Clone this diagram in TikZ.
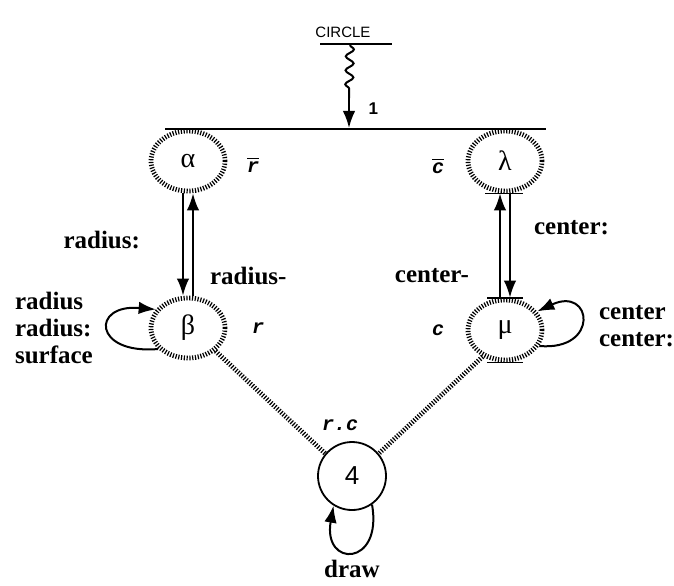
\documentclass[tikz,border=0pt]{standalone}
\usepackage{fontspec}
\setmainfont{Liberation Serif}
\setsansfont{Liberation Sans}
\setmonofont{Liberation Mono}
\usepackage{tikz}
\usetikzlibrary{arrows.meta, positioning, calc, shapes.geometric, decorations.pathmorphing}
\newcommand{\attr}[1]{{\ttfamily\itshape\bfseries #1}}

\begin{document}
\begin{tikzpicture}[
    x=0.5pt, y=-0.5pt,
    >=Latex,
    hatched/.style={line width=2.4pt, dash pattern=on 0.6pt off 0.8pt},
    state/.style={
        ellipse, draw, hatched,
        minimum width=37pt, minimum height=30pt, inner sep=0pt,
        font=\fontsize{14}{14}\selectfont
    },
    transition/.style={
        line width=1pt,
        -{Latex[length=3mm,width=2.2mm]}
    },
    lbl/.style={font=\fontsize{12.5}{13.5}\selectfont\bfseries, align=left},
    attrib/.style={font=\fontsize{10}{10}\selectfont}
]
\useasboundingbox (0,0) rectangle (674,585);

% Nodes
\node[font=\sffamily\fontsize{7.5}{7.5}\selectfont] (circle) at (343,32) {CIRCLE};
\coordinate (barL) at (320,44);
\coordinate (barR) at (392,44);
\coordinate (src) at (350,45);
\coordinate (bend) at (349,98);
\coordinate (hit) at (349,128);
\coordinate (lineL) at (165,129);
\coordinate (lineR) at (546,129);

\node[state] (alpha) at (188,161) {α};
\node[state] (lambda) at (505,161) {λ};
\node[state] (beta) at (188,328) {β};
\node[state] (mu) at (505,330) {μ};
\node[circle, draw, line width=0.9pt, minimum size=34pt, inner sep=0pt,
      font=\sffamily\fontsize{13}{13}\selectfont] (four) at (352,476) {4};

% Attribute labels
\node[attrib] (rbar) at (253,165) {$\overline{\mbox{\attr{r}}}$};
\node[attrib] (cbar) at (438,166) {$\overline{\mbox{\attr{c}}}$};
\node[attrib] (r) at (258,328) {\attr{r}};
\node[attrib] (c) at (438,330) {\attr{c}};
\node[attrib] (rc) at (340,425) {\attr{r.c}};

% Top of the diagram
\draw[line width=1pt] (barL) -- (barR);
\draw[line width=1pt] (lineL) -- (lineR);
\draw[line width=1pt, decorate,
      decoration={snake, amplitude=2pt, segment length=7pt, post length=2pt}]
    (src) -- (bend);
\draw[transition] (bend) -- node[right, font=\sffamily\bfseries\fontsize{8.5}{8.5}\selectfont, pos=0.35, xshift=6pt] {1} (hit);

% alpha <-> beta
\draw[transition] ([xshift=-2.5pt]alpha.south) -- ([xshift=-2.5pt]beta.north);
\draw[transition] ([xshift=2.5pt]beta.north) -- ([xshift=2.5pt]alpha.south);
\node[lbl, anchor=east] (radcol) at (147,240) {radius:};
\node[lbl, anchor=west] (radmin) at (203,276) {radius-};

% lambda <-> mu
\draw[transition] ([xshift=-2.5pt]mu.north) -- ([xshift=-2.5pt]lambda.south);
\draw[transition] ([xshift=2.5pt]lambda.south) -- ([xshift=2.5pt]mu.north);
\node[lbl, anchor=west] (cencol) at (527,228) {center:};
\node[lbl, anchor=east] (cenmin) at (476,276) {center-};

% small bars on lambda and mu
\draw[line width=0.9pt] ([xshift=-10pt]lambda.north) -- ([xshift=9pt]lambda.north);
\draw[line width=0.9pt] ([xshift=-10pt]lambda.south) -- ([xshift=9pt]lambda.south);
\draw[line width=0.9pt] ([xshift=-9pt]mu.north) -- ([xshift=9pt]mu.north);
\draw[line width=0.9pt] ([xshift=-9pt]mu.south) -- ([xshift=9pt]mu.south);

% self loops
\draw[transition] (beta.215) to[out=185, in=175, looseness=4.2] (beta.150);
\node[lbl, anchor=west] (radloop) at (8,328) {radius\\radius:\\surface};
\draw[transition] (mu.-25) to[out=-5, in=25, looseness=4.5] (mu.30);
\node[lbl, anchor=west] (cenloop) at (592,326) {center\\center:};
\draw[transition] (four.-55) to[out=-80, in=-100, looseness=4.2] (four.-122);
\node[lbl] (draw) at (352,569) {draw};

% hatched links to node 4
\draw[hatched] (beta.-40) -- (four.140);
\draw[hatched] (mu.-130) -- (four.40);

\end{tikzpicture}
\end{document}
